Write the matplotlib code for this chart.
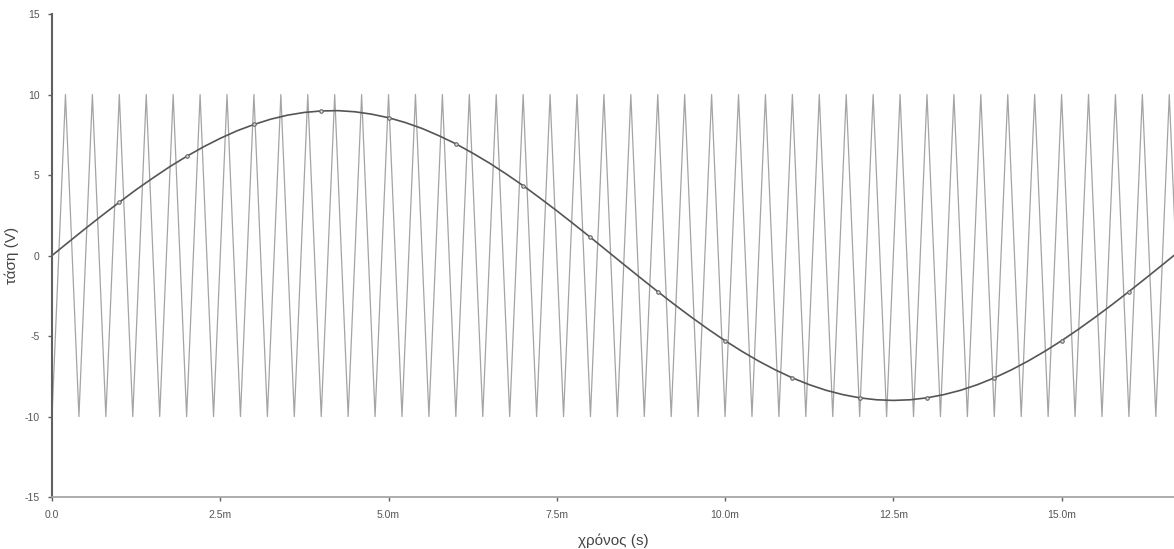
import matplotlib
matplotlib.use('Agg')
import matplotlib.pyplot as plt

plt.rcParams['font.family'] = ['Liberation Sans', 'DejaVu Sans']

# sine (ms, V), read every 0.25 ms
sine_t = [0.0, 0.25, 0.5, 0.75, 1.0, 1.25, 1.5, 1.75, 2.0, 2.25, 2.5, 2.75,
          3.0, 3.25, 3.5, 3.75, 4.0, 4.25, 4.5, 4.75, 5.0, 5.25, 5.5, 5.75,
          6.0, 6.25, 6.5, 6.75, 7.0, 7.25, 7.5, 7.75, 8.0, 8.25, 8.5, 8.75,
          9.0, 9.25, 9.5, 9.75, 10.0, 10.25, 10.5, 10.75, 11.0, 11.25, 11.5,
          11.75, 12.0, 12.25, 12.5, 12.75, 13.0, 13.25, 13.5, 13.75, 14.0,
          14.25, 14.5, 14.75, 15.0, 15.25, 15.5, 15.75, 16.0, 16.25, 16.5,
          16.75]
sine_v = [0.0, 0.85, 1.69, 2.51, 3.31, 4.09, 4.82, 5.52, 6.16, 6.75, 7.28, 7.75,
          8.14, 8.47, 8.72, 8.89, 8.98, 9.0, 8.93, 8.78, 8.56, 8.26, 7.89, 7.44,
          6.94, 6.36, 5.74, 5.06, 4.34, 3.57, 2.78, 1.96, 1.13, 0.28, -0.57,
          -1.41, -2.24, -3.05, -3.83, -4.58, -5.29, -5.95, -6.56, -7.11, -7.60,
          -8.02, -8.37, -8.64, -8.84, -8.96, -9.0, -8.96, -8.84, -8.64, -8.37,
          -8.02, -7.60, -7.11, -6.56, -5.95, -5.29, -4.58, -3.83, -3.05, -2.24,
          -1.41, -0.57, 0.28]

# triangle carrier: vertex times (ms)
tri_valley_t = [0.0, 0.4, 0.8, 1.2, 1.6, 2.0, 2.4, 2.8, 3.2, 3.6, 4.0, 4.4, 4.8,
                5.2, 5.6, 6.0, 6.4, 6.8, 7.2, 7.6, 8.0, 8.4, 8.8, 9.2, 9.6, 10.0,
                10.4, 10.8, 11.2, 11.6, 12.0, 12.4, 12.8, 13.2, 13.6, 14.0, 14.4,
                14.8, 15.2, 15.6, 16.0, 16.4, 16.8]
tri_peak_t = [0.2, 0.6, 1.0, 1.4, 1.8, 2.2, 2.6, 3.0, 3.4, 3.8, 4.2, 4.6, 5.0,
              5.4, 5.8, 6.2, 6.6, 7.0, 7.4, 7.8, 8.2, 8.6, 9.0, 9.4, 9.8, 10.2,
              10.6, 11.0, 11.4, 11.8, 12.2, 12.6, 13.0, 13.4, 13.8, 14.2, 14.6,
              15.0, 15.4, 15.8, 16.2, 16.6]
tri_low = -10
tri_high = 10

xticks = [0, 2.5, 5.0, 7.5, 10.0, 12.5, 15.0]
xticklabels = ['0.0', '2.5m', '5.0m', '7.5m', '10.0m', '12.5m', '15.0m']
yticks = [-15, -10, -5, 0, 5, 10, 15]
yticklabels = ['-15', '-10', '-5', '0', '5', '10', '15']

pts = sorted([(t, tri_low) for t in tri_valley_t] + [(t, tri_high) for t in tri_peak_t])
tri_t = [p[0] for p in pts]
tri_v = [p[1] for p in pts]

fig = plt.figure(figsize=(11.74, 5.49), dpi=100)
ax = fig.add_axes([0.0443, 0.0947, 0.9557, 0.8797])

ax.plot(tri_t, tri_v, color='#a4a4a4', lw=0.9)
ax.plot(sine_t, sine_v, color='#555555', lw=1.2, marker='o', markersize=2.5,
        markerfacecolor='#dddddd', markeredgecolor='#666666', markeredgewidth=0.8,
        markevery=(4, 4))

ax.set_xlim(0, 16.67)
ax.set_ylim(-15, 15)
ax.set_xticks(xticks)
ax.set_xticklabels(xticklabels)
ax.set_yticks(yticks)
ax.set_yticklabels(yticklabels)

for s in ['top', 'right']:
    ax.spines[s].set_visible(False)
ax.spines['left'].set_color('#606060')
ax.spines['left'].set_linewidth(1.5)
ax.spines['bottom'].set_color('#a0a0a0')
ax.spines['bottom'].set_linewidth(1.2)
ax.tick_params(axis='both', length=3, width=1, color='#606060',
               labelsize=7.5, labelcolor='#555555', pad=6)

ax.set_xlabel('χρόνος (s)', fontsize=11, color='#444444', labelpad=10)
ax.set_ylabel('τάση (V)', fontsize=11, color='#444444', labelpad=4)

fig.savefig('out.png', dpi=100)
